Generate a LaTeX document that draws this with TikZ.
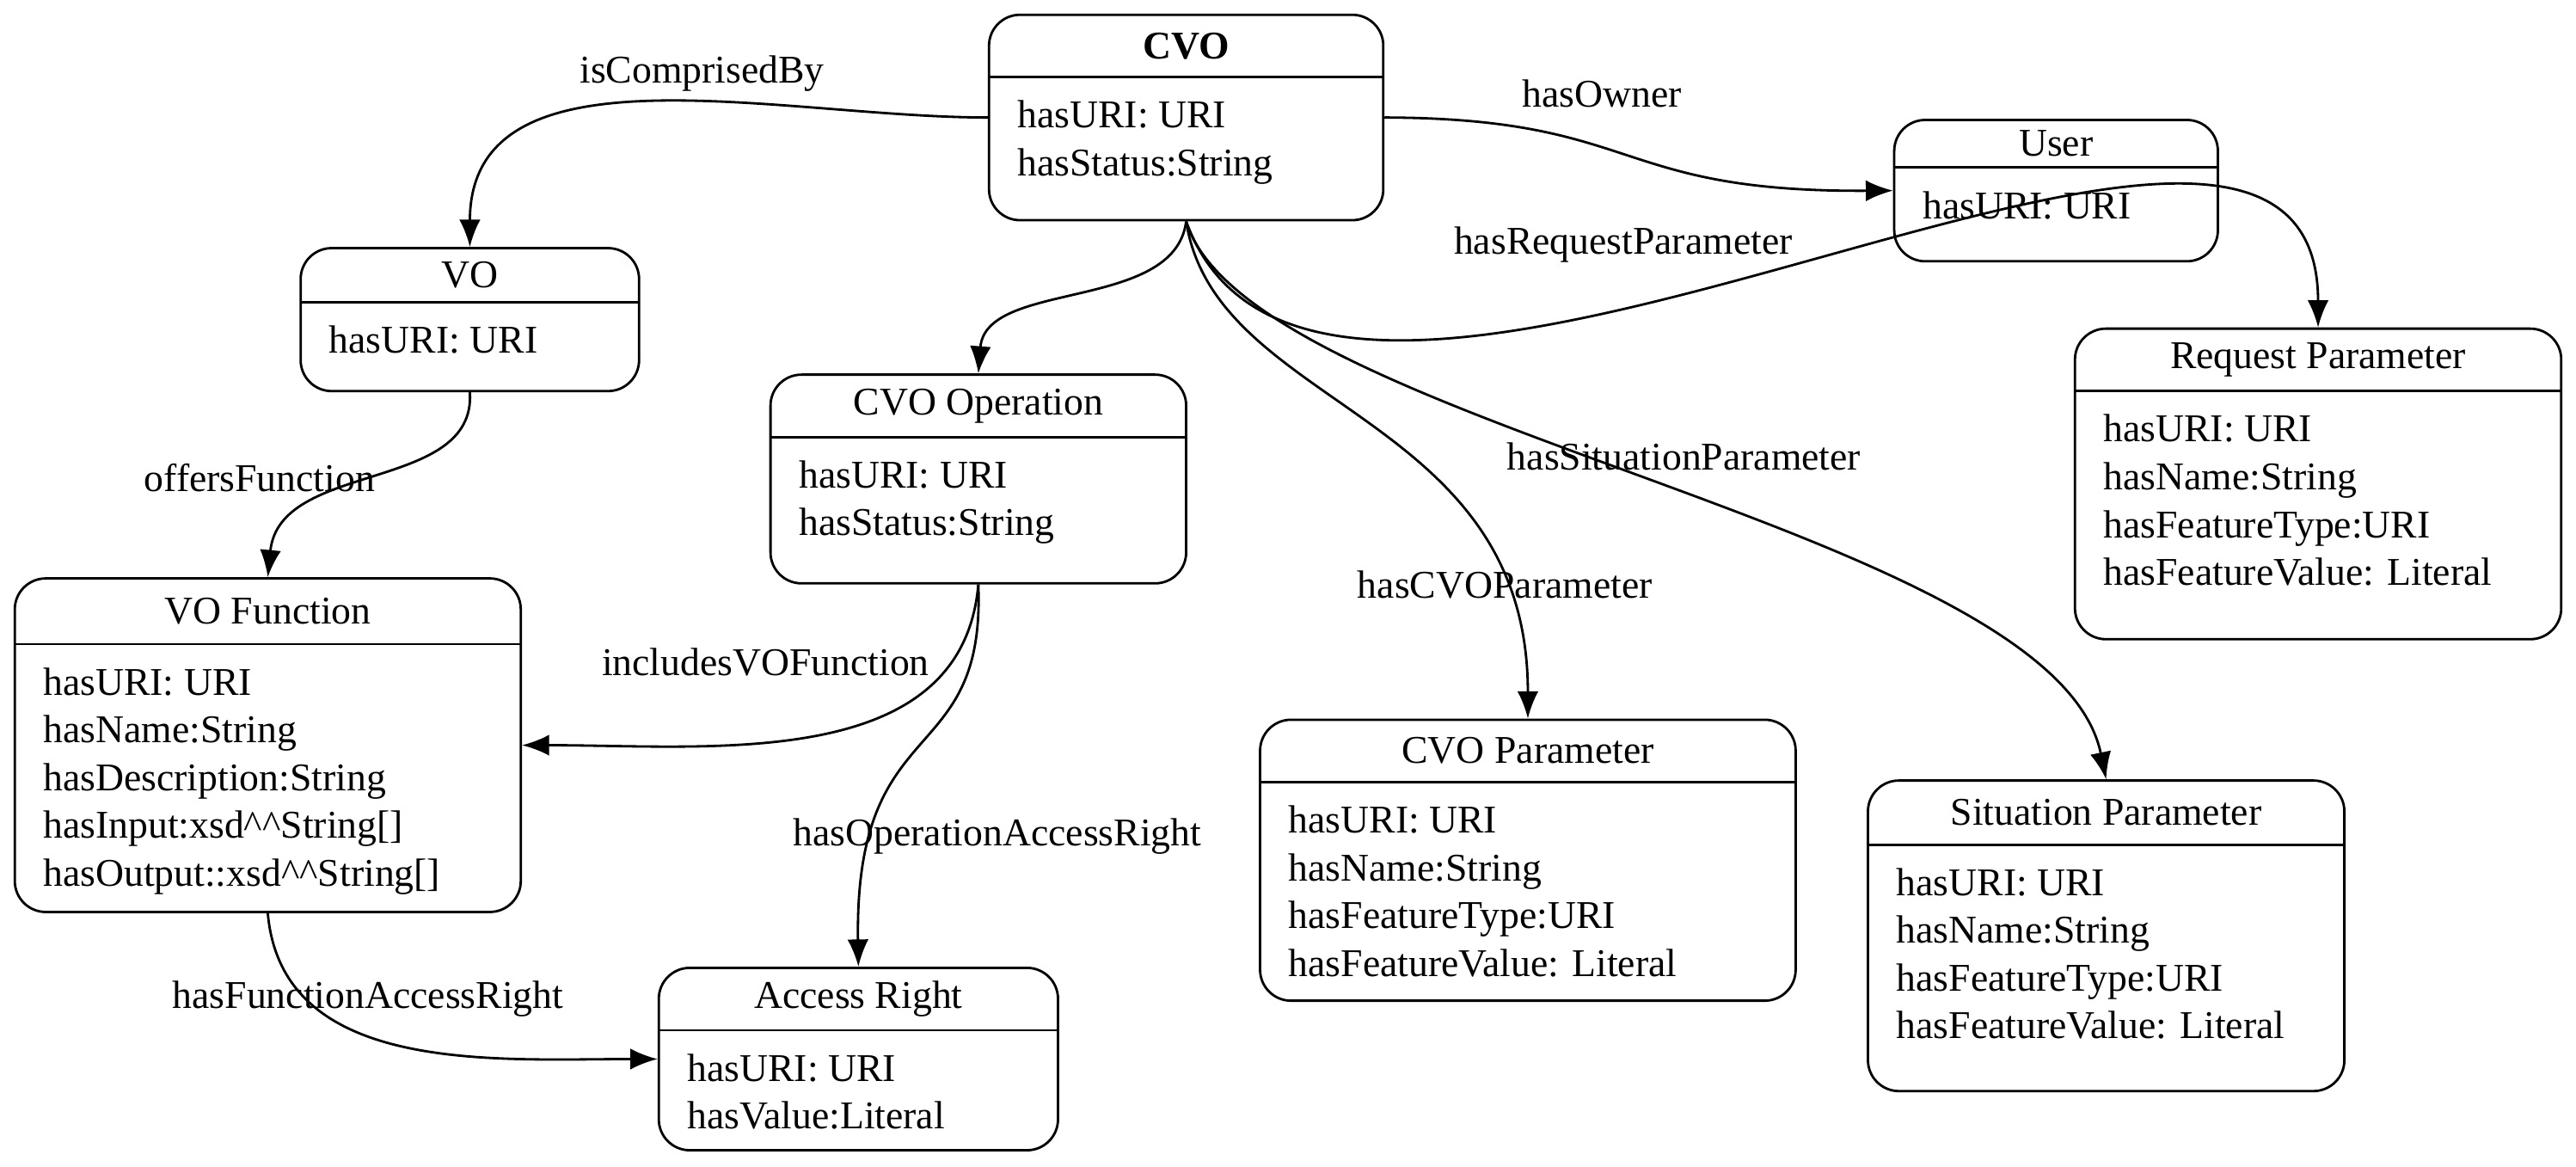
\documentclass[tikz,border=0pt]{standalone}
\usepackage{fontspec}
\setmainfont{Liberation Serif}
\usetikzlibrary{arrows.meta}

\tikzset{
  cls/.style={draw, rounded corners=0.36cm, line width=0.8pt, inner sep=0pt},
  attrs/.style={anchor=north west, align=left, inner sep=0pt, font=\fontsize{13}{15.8}\selectfont},
  ttl/.style={font=\fontsize{13}{15.8}\selectfont},
  rel/.style={-{Latex[length=9pt,width=7pt]}, line width=0.8pt},
  lbl/.style={font=\fontsize{13}{15.8}\selectfont}
}

% name, left, top, right, bottom, divider, title, attributes
\newcommand\umlclass[8]{%
  \node[cls, minimum width={(#4-#2)*0.01911cm}, minimum height={(#5-#3)*0.01911cm}] (#1) at ({(#2+#4)/2},{(#3+#5)/2}) {};
  \draw[line width=0.8pt] (#2,#6) -- (#4,#6);
  \node[ttl] (#1-t) at ({(#2+#4)/2},{(#3+#6)/2}) {#7};
  \node[attrs] (#1-a) at ({#2+17},{#6+14}) {#8};
}

\begin{document}
\begin{tikzpicture}[x=0.01911cm, y=-0.01911cm]
\useasboundingbox (0,0) rectangle (1568,710);

\umlclass{cvo}{602}{9}{842}{134}{47}{\textbf{CVO}}{hasURI: URI\\hasStatus:String}
\umlclass{user}{1153}{73}{1350}{159}{102}{User}{hasURI: URI}
\umlclass{vo}{183}{151}{389}{238}{184}{VO}{hasURI: URI}
\umlclass{op}{469}{228}{722}{355}{266}{CVO Operation}{hasURI: URI\\hasStatus:String}
\umlclass{req}{1263}{200}{1559}{389}{238}{Request Parameter}{hasURI: URI\\hasName:String\\hasFeatureType:URI\\hasFeatureValue: Literal}
\umlclass{vof}{9}{352}{317}{555}{392}{VO Function}{hasURI: URI\\hasName:String\\hasDescription:String\\hasInput:xsd\^{}\^{}String[]\\hasOutput::xsd\^{}\^{}String[]}
\umlclass{cvop}{767}{438}{1093}{609}{476}{CVO Parameter}{hasURI: URI\\hasName:String\\hasFeatureType:URI\\hasFeatureValue: Literal}
\umlclass{sit}{1137}{475}{1427}{664}{514}{Situation Parameter}{hasURI: URI\\hasName:String\\hasFeatureType:URI\\hasFeatureValue: Literal}
\umlclass{acc}{401}{589}{644}{700}{627}{Access Right}{hasURI: URI\\hasValue:Literal}

\draw[rel] (cvo.west) to[out=180,in=90] node[lbl, pos=0.42, above] {isComprisedBy} (vo.north);
\draw[rel] (cvo.east) .. controls (1000,72) and (980,117) .. (user.west);
\node[lbl] at (975,57) {hasOwner};
\draw[rel] (cvo.south) to[out=-70,in=90,looseness=0.9] (req.north);
\node[lbl] at (988,149) {hasRequestParameter};
\draw[rel] (cvo.south) .. controls (715,190) and (600,170) .. (op.north);
\draw[rel] (cvo.south) .. controls (760,260) and (1250,320) .. (sit.north);
\node[lbl] at (1025,278) {hasSituationParameter};
\draw[rel] (cvo.south) .. controls (740,250) and (930,250) .. (cvop.north);
\node[lbl] at (916,356) {hasCVOParameter};
\draw[rel] (vo.south) .. controls (290,300) and (170,280) .. (vof.north);
\node[lbl] at (158,291) {offersFunction};
\draw[rel] (op.south) to[out=-95,in=0] (vof.east);
\node[lbl] at (466,403) {includesVOFunction};
\draw[rel] (op.south) .. controls (600,470) and (520,430) .. (acc.north);
\node[lbl] at (607,509) {hasOperationAccessRight};
\draw[rel] (vof.south) to[out=-85,in=180] (acc.west);
\node[lbl] at (224,608) {hasFunctionAccessRight};
\end{tikzpicture}
\end{document}
